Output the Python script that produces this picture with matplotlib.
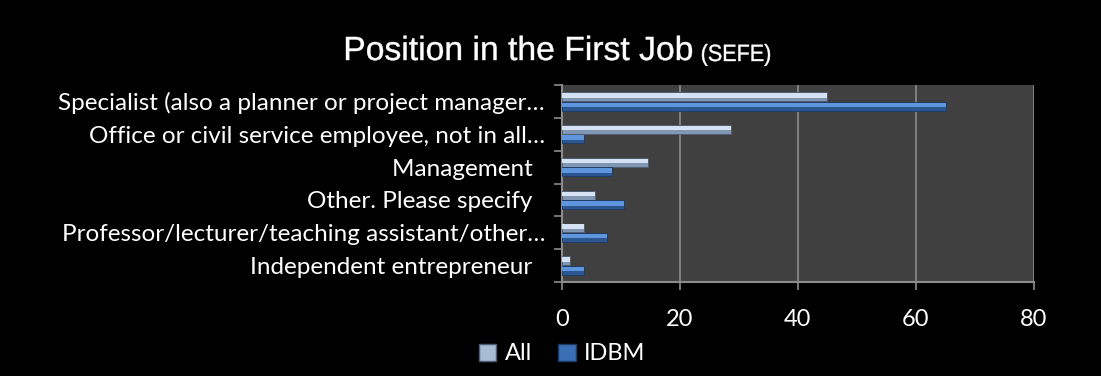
import numpy as np
import matplotlib.pyplot as plt
from matplotlib.patches import Patch, PathPatch
from matplotlib.textpath import TextPath
from matplotlib.font_manager import FontProperties
from matplotlib.transforms import Affine2D

categories = [
    'Specialist (also a planner or project manager…',
    'Office or civil service employee, not in all…',
    'Management  ',
    'Other. Please specify  ',
    'Professor/lecturer/teaching assistant/other…',
    'Independent entrepreneur  ',
]
all_values = [45.0, 28.6, 14.7, 5.7, 3.7, 1.4]
idbm_values = [65.1, 3.7, 8.5, 10.5, 7.7, 3.7]
series_names = ['All', 'IDBM']
x_ticks = [0, 20, 40, 60, 80]

W, H = 1101, 376
body_font = 'Lato'

fig = plt.figure(figsize=(W / 100, H / 100), dpi=100, facecolor='black')
ax = fig.add_axes([561.7 / W, 1 - 282 / H, (1034 - 561.7) / W, (282 - 85) / H])
ax.set_facecolor('#404040')

y = np.arange(len(categories))
h = 0.27
off = 0.145

# base bars, then a lighter strip on the upper half for the bevel look
ax.barh(y - off, all_values, height=h, color='#8196b3', edgecolor='#4d5d73', linewidth=0.6, zorder=3)
ax.barh(y - off - h * 0.15, all_values, height=h * 0.5, color='#d4e2f4', linewidth=0, zorder=4)
ax.barh(y + off, idbm_values, height=h, color='#2b5690', edgecolor='#1b3a66', linewidth=0.6, zorder=3)
ax.barh(y + off - h * 0.15, idbm_values, height=h * 0.5, color='#5e95dc', linewidth=0, zorder=4)

ax.set_xlim(0, 80)
ax.set_ylim(len(categories) - 0.5, -0.5)
ax.set_xticks(x_ticks)
ax.set_xticklabels([str(t) for t in x_ticks], fontsize=17, family=body_font)
ax.tick_params(axis='x', colors='#8c8c8c', length=5.8, width=1.2, pad=14, labelcolor='white')

ax.set_yticks(y)
ax.set_yticklabels(categories, fontsize=17.5, color='white', family=body_font)
ax.tick_params(axis='y', length=0, pad=12)
ax.set_yticks(np.arange(-0.5, len(categories)), minor=True)
ax.tick_params(axis='y', which='minor', length=5.8, width=1.2, colors='#8c8c8c')

ax.grid(axis='x', color='#8c8c8c', linewidth=1.2, zorder=1)
for side in ['top', 'right']:
    ax.spines[side].set_visible(False)
for side in ['left', 'bottom']:
    ax.spines[side].set_color('#8c8c8c')
    ax.spines[side].set_linewidth(1.5)


def narrow_text(s, x0, baseline, size_px, width_px, family='Liberation Sans'):
    # draw text as a path, squeezed horizontally like a narrow typeface
    path = TextPath((0, 0), s, size=1, prop=FontProperties(family=family))
    ext = path.get_extents()
    sx = width_px / ext.width
    tr = Affine2D().translate(-ext.x0, 0).scale(sx, size_px).translate(x0, H - baseline)
    fig.add_artist(PathPatch(path, transform=tr, facecolor='white', edgecolor='white', linewidth=0.3))


narrow_text('Position in the First Job', 346, 60, 33.5, 346)
narrow_text('(SEFE)', 702, 61, 23.5, 68)

handles = [Patch(facecolor='#a9bcd6', edgecolor='#4d5d73'),
           Patch(facecolor='#3a6fb6', edgecolor='#1b3a66')]
leg = fig.legend(handles, series_names, loc='center', bbox_to_anchor=(562 / W, 1 - 354 / H),
                 ncol=2, frameon=False, handlelength=0.75, handleheight=0.75, handletextpad=0.35,
                 columnspacing=1.1, prop={'family': body_font, 'size': 17})
for t in leg.get_texts():
    t.set_color('white')

fig.savefig('out.png', facecolor='black')
